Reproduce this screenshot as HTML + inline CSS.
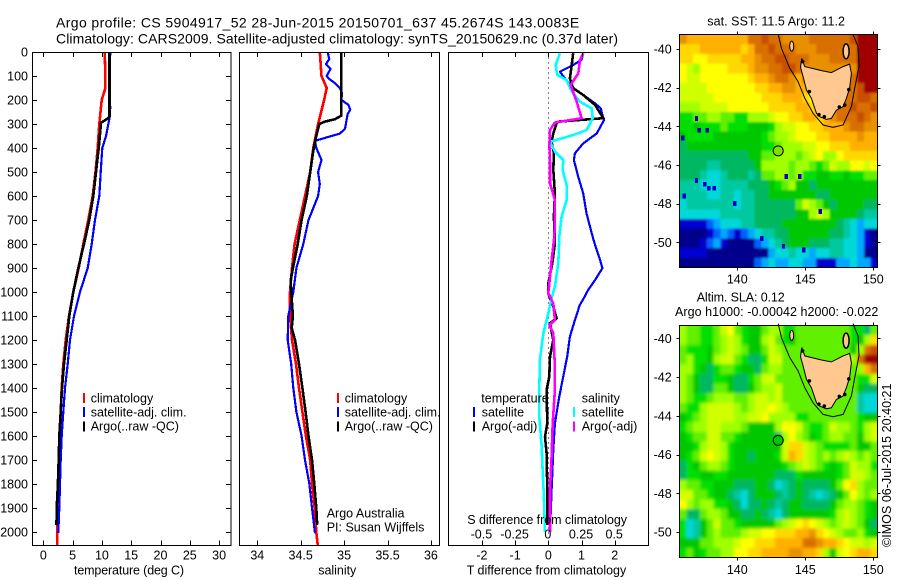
<!DOCTYPE html>
<html lang="en">
<head>
<meta charset="utf-8">
<title>Argo profile 5904917_52</title>
<style>
html,body{margin:0;padding:0;background:#fff;width:900px;height:580px;overflow:hidden}
svg{display:block}
text{font-family:"Liberation Sans",Arial,sans-serif;font-size:12.5px;fill:#000}
.t{font-size:14px}
</style>
</head>
<body>
<svg id="chart" xmlns="http://www.w3.org/2000/svg" width="900" height="580" viewBox="0 0 900 580">
<defs>
<filter id="blurSst" filterUnits="userSpaceOnUse" x="660" y="15" width="240" height="270"><feGaussianBlur stdDeviation="1.1"/></filter>
<filter id="blurSla" filterUnits="userSpaceOnUse" x="660" y="305" width="240" height="270"><feGaussianBlur stdDeviation="1.7"/></filter>
<clipPath id="clipSst"><rect x="679.5" y="34.5" width="198" height="233"/></clipPath>
<clipPath id="clipSla"><rect x="679.5" y="325.5" width="198" height="232"/></clipPath>
</defs>
<text class="t" x="56" y="27.3" style="letter-spacing:0.39px">Argo profile: CS 5904917_52 28-Jun-2015 20150701_637 45.2674S 143.0083E</text>
<text class="t" x="56" y="43.3" textLength="562" lengthAdjust="spacing">Climatology: CARS2009. Satellite-adjusted climatology: synTS_20150629.nc (0.37d later)</text>

<g id="p1"></g>
<g id="p2"></g>
<g id="p3"></g>
<g id="m1"></g>
<g id="m2"></g>

<text x="74" y="574.7" textLength="110" lengthAdjust="spacing">temperature (deg C)</text>
<text x="318.3" y="574.7" textLength="38" lengthAdjust="spacing">salinity</text>
<text x="466.7" y="574.7" textLength="159.5" lengthAdjust="spacing">T difference from climatology</text>
<text x="467.3" y="524" textLength="159.7" lengthAdjust="spacing">S difference from climatology</text>

<g>
<rect x="83" y="393" width="2" height="10" fill="#ff0000"/>
<rect x="83" y="407" width="2" height="10" fill="#0000ff"/>
<rect x="83" y="421.5" width="2" height="10" fill="#000"/>
<text x="90.7" y="402.7">climatology</text>
<text x="90.7" y="416.7">satellite-adj. clim.</text>
<text x="90.7" y="430.7">Argo(..raw -QC)</text>
</g>
<g>
<rect x="337" y="393" width="2" height="10" fill="#ff0000"/>
<rect x="337" y="407" width="2" height="10" fill="#0000ff"/>
<rect x="337" y="421.5" width="2" height="10" fill="#000"/>
<text x="344.7" y="402.7">climatology</text>
<text x="344.7" y="416.7">satellite-adj. clim.</text>
<text x="344.7" y="430.7">Argo(..raw -QC)</text>
<text x="326.7" y="517.3">Argo Australia</text>
<text x="326.7" y="531.3">PI: Susan Wijffels</text>
</g>
<g>
<text x="481.3" y="402.7">temperature</text>
<rect x="473" y="407" width="2" height="10" fill="#0000ff"/>
<rect x="473" y="421.5" width="2" height="10" fill="#000"/>
<text x="481.7" y="416.7">satellite</text>
<text x="481.7" y="430.7">Argo(-adj)</text>
<text x="581.7" y="402.7">salinity</text>
<rect x="573" y="407" width="2" height="10" fill="#00ffff"/>
<rect x="573" y="421.5" width="2" height="10" fill="#ff00ff"/>
<text x="581.7" y="416.7">satellite</text>
<text x="581.7" y="430.7">Argo(-adj)</text>
</g>

<text x="707.3" y="25.7" textLength="137.7" lengthAdjust="spacing">sat. SST: 11.5 Argo: 11.2</text>
<text x="696.7" y="301.7" textLength="88" lengthAdjust="spacing">Altim. SLA: 0.12</text>
<text x="675" y="316" textLength="203.3" lengthAdjust="spacing">Argo h1000: -0.00042 h2000: -0.022</text>
<text transform="translate(891 547) rotate(-90)" textLength="163.5" lengthAdjust="spacing">©IMOS 06-Jul-2015 20:40:21</text>
</svg>

<script>
// ---------- axis ticks ----------
const depthTicks = [0,100,200,300,400,500,600,700,800,900,1000,1100,1200,1300,1400,1500,1600,1700,1800,1900,2000];
const tempTicks = [0,5,10,15,20,25,30];
const salTicks = [34,34.5,35,35.5,36];
const salTickLabels = ['34','34.5','35','35.5','36'];
const tDiffTicks = [-2,-1,0,1,2];
const sDiffTicks = [-0.5,-0.25,0,0.25,0.5];
const sDiffTickLabels = ['-0.5','-0.25','0','0.25','0.5'];
const lonTicks = [140,145,150];
const latTicks = [-40,-42,-44,-46,-48,-50];

// ---------- temperature profiles ----------
const climTempDepth = [0,100,150,200,300,400,500,600,700,800,900,1000,1100,1200,1300,1400,1500,1600,1700,1800,1900,2000,2054];
const climTemp = [10.47,10.6,10.6,9.96,9.56,9.28,8.9,8.43,7.68,6.83,6.04,5.12,4.39,3.82,3.41,3.14,2.97,2.85,2.68,2.56,2.46,2.39,2.35];
const satTempDepth = [0,100,200,230,280,350,400,500,600,700,800,900,1000,1100,1200,1300,1400,1500,1600,1700,1800,1900,2005];
const satTemp = [11.44,11.27,11.27,11.44,11.27,10.7,10.07,9.8,9.56,8.82,8.26,7.57,6.26,5.24,4.56,4.16,3.7,3.41,3.14,2.97,2.85,2.73,2.56];
const argoTempDepth = [0,270,280,295,400,500,600,700,800,900,1000,1100,1200,1300,1400,1500,1600,1700,1800,1900,1970];
const argoTemp = [11.3,11.3,10.8,9.85,9.45,9,8.54,7.85,6.95,5.97,5.12,4.44,3.99,3.53,3.19,2.97,2.73,2.63,2.5,2.29,2.25];

// ---------- salinity profiles ----------
const climSalDepth = [0,100,150,200,300,400,500,600,700,800,900,1000,1100,1200,1300,1400,1500,1600,1700,1800,1900,2000,2054];
const climSal = [34.72,34.74,34.8,34.77,34.7,34.645,34.61,34.55,34.49,34.43,34.4,34.377,34.377,34.4,34.446,34.48,34.52,34.56,34.61,34.63,34.66,34.68,34.696];
const satSalDepth = [0,30,50,70,100,110,130,150,170,200,220,240,260,320,340,370,400,450,500,550,600,650,700,800,900,1000,1100,1200,1300,1400,1500,1600,1700,1800,1900,2005];
const satSal = [34.81,34.83,34.79,34.845,34.8,34.82,34.895,34.95,34.975,34.97,35.05,35.07,35.04,35.01,34.95,34.665,34.68,34.74,34.7,34.72,34.7,34.645,34.59,34.53,34.45,34.415,34.357,34.35,34.39,34.415,34.45,34.51,34.55,34.6,34.63,34.665];
const argoSalDepth = [0,265,280,290,300,350,400,500,600,700,800,900,950,1000,1100,1150,1200,1300,1400,1500,1600,1700,1800,1900,1970];
const argoSal = [34.968,34.968,34.895,34.78,34.714,34.68,34.65,34.61,34.57,34.51,34.465,34.41,34.385,34.39,34.41,34.396,34.434,34.48,34.52,34.557,34.59,34.63,34.657,34.68,34.69];

// ---------- differences from climatology ----------
const satTDiffDepth = [5,33,54,82,110,144,179,214,235,262,283,339,381,422,450,519,589,672,783,867,901,950,992,1026,1054,1117,1186,1269,1353,1436,1547,1658,1825,1999];
const satTDiff = [1.05,1,0.75,0.35,0.5,0.7,1.05,1.41,1.58,1.63,1.68,1.46,1.05,0.8,0.77,0.9,1.05,1.15,1.36,1.56,1.63,1.41,1.2,1.07,0.95,0.8,0.65,0.57,0.45,0.33,0.2,0.15,0.1,0.05];
const argoTDiffDepth = [5,61,110,151,179,221,276,290,297,339,374,422,491,589,686,797,881,964,1006,1061,1110,1130,1200,1269,1353,1408,1547,1603,1672,1825,1970];
const argoTDiff = [0.75,0.7,0.65,0.75,1.05,1.41,1.66,0.3,0.25,0.15,0.1,0.17,0.15,0.2,0.17,0.2,0.12,0,0,0.15,0.25,0.05,0.15,0.05,0.03,-0.05,-0.03,-0.1,-0.05,-0.03,-0.03];
const satSDiffDepth = [5,54,96,117,165,207,235,276,325,346,374,415,450,491,554,617,686,769,881,978,1026,1089,1172,1283,1408,1520,1645,1742,1853,1999];
const satSDiff = [0.088,0.055,0.068,0.138,0.176,0.239,0.327,0.334,0.289,0.188,0.013,0.05,0.113,0.108,0.138,0.138,0.1,0.083,0.075,0.05,0.025,0,-0.038,-0.063,-0.068,-0.068,-0.05,-0.043,-0.033,-0.025];
const argoSDiffDepth = [5,33,89,137,207,276,294,325,387,464,547,617,728,783,867,936,1005,1047,1117,1138,1172,1311,1408,1547,1686,1825,1999];
const argoSDiff = [0.264,0.239,0.226,0.168,0.214,0.251,0.05,0.013,0.008,0.013,0.013,0.05,0.05,0.043,0.025,0.013,0,0.038,0.05,0.008,0.038,0.05,0.05,0.033,0.025,0.013,0.013];

// ---------- map data: colour-level codes, one row per latitude band, 29 longitude bands ----------
const levelColors = {a:'#00008c',b:'#0000d0',c:'#0060ff',d:'#00a8ff',e:'#00d8d8',f:'#00c8a0',g:'#00b860',h:'#00c800',i:'#00e000',j:'#60f000',k:'#a0ff00',l:'#d0ff00',m:'#ffff00',n:'#ffd800',o:'#ffb000',p:'#e89000',q:'#d87000',r:'#c85000',s:'#a00000'};
const sstRows = [
'poooooooooqqrqqppppqqqqqqrsss',
'nnnoooooonoqqrqqqpppqqqqqqsss',
'nnmmnnnnnoopqqrrqqqpppqqqqsss',
'mlkmmmmnnnoppqqrrqppppppppsss',
'mllmmmmmmmnoopqqpoqqqqqqqqsss',
'llllmmmmmmmnnooppoooqqqqqqrss',
'lllllmmmmmmmnnnooonmpqqqqqrrq',
'kkkllllmmmmmmnnnnoonnoqqqrqqr',
'iijjkkjjiikkklmmnnoonopqqqrqp',
'iihiiijiiihhhikllmmnnooopqqpp',
'hiiiihhhhhhhijkklmmmnnoooopoo',
'ghhhhhhhhhhhiijkkkllmmnnnoooo',
'gggggggggghhjjkkkjklmkkmnnnnn',
'ggggffggggghkkkkjkkjijlkkmmlm',
'gggfeefgggfgjjkkjkiihhiihiijj',
'fffeeeffffggghijkhhghhhhhhhhh',
'ffffeeffeffgghhhhhhhgghhhhhhh',
'efffffffeffggggggjlkjhghhhhgg',
'eeeeeefffffgggggghhklkhhhhgff',
'bbbbcdeeeffgggghhhhhhhhgfedee',
'aaaabcdcbcdeffgghhhhhhggfedba',
'aaabcdbaaaacdefghhhgggffeedba',
'bbbbaaaaaaaaadeefeedeeffeedaa',
'aaaaaaaaaaacdeddeeddbbbddeddb'
];
const slaRows = [
'kjjiijlmjihhjkkiijjjjjjjjiigj',
'kjjiijklkihhkljihjjjjjjjjihkn',
'jiiihjklkjhhjlkjjjjjjjjjjhkqr',
'jkiihklljiggilljjjjjjjjjjkqss',
'kkihgijjihhgjkkjjjjjjjjjjjkoq',
'kjhggiihggijlljjjjjjjjjjjjiil',
'kjhggjjhgghjkkljjjjjjjjjjjhgg',
'kjiijkkkjjkllkljjjjjjjjjjjfee',
'jiikllllkjkllmlkjjjjjjjjjjfee',
'hijkllllkkllmkkkkiijjjjjjjihh',
'ijkkllkkkjhhhhkmmljiijlkkjikl',
'hijjlljjihhhhhgkmkjhijkkjjhkl',
'hhikllkihhhhhhhlnnlkjiiiijhhj',
'hijlmlkihhghhhilonlkjkjklkjkj',
'gihjkkjihhhhhhhijklkjihijlkki',
'giihhiihhhhhhhgggihhhhhijllkj',
'kjjiihhhggghhgefghgggghjmnkjj',
'lljjihhgfeghhhgfghgfefghjmkjk',
'mkjkkiihgegghgfghhgggghjkkjih',
'jggjkkjhhgghgfeghhhhhhiklkjih',
'iefhjljjihhhhhjklmnmlkjklkjhg',
'iefhjkjjjkllmmnnnoopnmlkjjkih',
'hhhjjkkklmmnnnooooqqpoonmllkl',
'ijhijjkkmmnnooooppoonkhlmnoon'
];
// isolated dark-blue cloud-edge pixels in the SST field
const sstSpeckLon = [137.2,137.8,137.0,136.0,137.0,137.6,137.9,138.3,136.1,139.8,143.6,144.6,141.8,143.4,144.9,146.1];
const sstSpeckLat = [-44.2,-44.2,-43.6,-44.6,-46.8,-47.0,-47.2,-47.2,-47.6,-48.0,-46.6,-46.6,-49.8,-50.2,-50.4,-48.4];

// Tasmania coastline and shelf contour, lon / lat
const coastLon = [144.65,144.74,144.96,146.19,146.92,147.78,148.26,148.39,148.26,148.02,147.78,147.29,146.92,146.55,146.06,145.82,145.45,145.09,144.84];
const coastLat = [-40.95,-40.48,-40.91,-41.12,-41.22,-40.91,-40.78,-41.26,-42.03,-42.55,-42.98,-43.16,-43.59,-43.64,-43.5,-43.33,-42.55,-42.12,-41.43];
const contourLon = [143.01,143.25,143.86,144.47,144.96,145.57,146.31,147.04,147.78,148.39,148.63,148.95,148.88,148.51];
const contourLat = [-39.24,-39.97,-41.0,-41.69,-42.55,-43.33,-43.93,-44.05,-43.93,-42.98,-42.03,-40.91,-39.88,-39.24];
const harbourLon = [145.3,146.0,146.4,147.5,147.9,148.2,144.8];
const harbourLat = [-42.2,-43.4,-43.5,-43.0,-42.9,-42.1,-40.65];
const argoLon = [143.0083];
const argoLat = [-45.2674];

// ---------- drawing ----------
const NS = 'http://www.w3.org/2000/svg';
function mk(parent, tag, attrs){
  const el = document.createElementNS(NS, tag);
  for (const k in attrs) el.setAttribute(k, attrs[k]);
  parent.appendChild(el);
  return el;
}
function label(parent, name, x, y, str, anchor){
  const el = mk(parent, 'text', {x:x, y:y, 'text-anchor':anchor});
  
  
  el.textContent = str;
  return el;
}
function tick(parent, name, x1, y1, x2, y2){
  const el = mk(parent, 'line', {x1:x1, y1:y1, x2:x2, y2:y2, stroke:'#000', 'stroke-width':1, 'shape-rendering':'crispEdges'});
  
  
  return el;
}
function box(parent, name, x, y, w, h){
  const el = mk(parent, 'rect', {x:x, y:y, width:w, height:h, fill:'none', stroke:'#000', 'stroke-width':1, 'shape-rendering':'crispEdges'});
  
  
  return el;
}
function profile(parent, name, depths, vals, xf, color, width){
  const pts = depths.map((d, i) => xf(vals[i]).toFixed(1) + ',' + yDepth(d).toFixed(1)).join(' ');
  const el = mk(parent, 'polyline', {points:pts, fill:'none', stroke:color, 'stroke-width':width, 'stroke-linejoin':'round', 'shape-rendering':'crispEdges'});
  
  
  return el;
}

const TOP = 52, BOT = 545;
function yDepth(d){ return TOP + d * 0.24; }
function xTemp(t){ return 43.3 + t * 5.86; }
function xSal(s){ return 257.3 + (s - 34) * 86.8; }
function xTD(t){ return 548.3 + t * 33.2; }
function xSD(s){ return 548.3 + s * 132.8; }

// panel 1
const p1 = document.getElementById('p1');
profile(p1, 'climatology-temperature-line', climTempDepth, climTemp, xTemp, '#ff0000', 2.6);
profile(p1, 'satellite-temperature-line', satTempDepth, satTemp, xTemp, '#0000ff', 2.2);
profile(p1, 'argo-temperature-line', argoTempDepth, argoTemp, xTemp, '#000', 2.6);
box(p1, 'temperature-plot-frame', 32.5, 52.5, 198.5, 493);
depthTicks.forEach(d => {
  const y = Math.round(yDepth(d)) + 0.5;
  if (d > 0) tick(p1, 'depth-tick', 32.5, y, 37, y);
  if (d > 0) tick(p1, 'depth-tick', 226, y, 231, y);
  label(p1, 'depth-tick-label', 28, yDepth(d) + 4.5, String(d), 'end');
});
tempTicks.forEach(t => {
  const x = Math.round(xTemp(t)) + 0.5;
  tick(p1, 'temperature-tick', x, 52.5, x, 57);
  tick(p1, 'temperature-tick', x, 540.5, x, 545.5);
  label(p1, 'temperature-tick-label', xTemp(t), 559.3, String(t), 'middle');
});

// panel 2
const p2 = document.getElementById('p2');
profile(p2, 'climatology-salinity-line', climSalDepth, climSal, xSal, '#ff0000', 2.6);
profile(p2, 'satellite-salinity-line', satSalDepth, satSal, xSal, '#0000ff', 2.2);
profile(p2, 'argo-salinity-line', argoSalDepth, argoSal, xSal, '#000', 2.6);
box(p2, 'salinity-plot-frame', 239.5, 52.5, 200, 493);
salTicks.forEach((s, i) => {
  const x = Math.round(xSal(s)) + 0.5;
  tick(p2, 'salinity-tick', x, 52.5, x, 57);
  tick(p2, 'salinity-tick', x, 540.5, x, 545.5);
  label(p2, 'salinity-tick-label', xSal(s), 559.3, salTickLabels[i], 'middle');
});

// panel 3
const p3 = document.getElementById('p3');
const zero = mk(p3, 'line', {x1:548.5, y1:52.5, x2:548.5, y2:545, stroke:'#000', 'stroke-width':1, 'stroke-dasharray':'1 4', 'shape-rendering':'crispEdges'});


profile(p3, 'satellite-t-difference-line', satTDiffDepth, satTDiff, xTD, '#0000ff', 2.2);
profile(p3, 'argo-t-difference-line', argoTDiffDepth, argoTDiff, xTD, '#000', 2.6);
profile(p3, 'satellite-s-difference-line', satSDiffDepth, satSDiff, xSD, '#00ffff', 2.6);
profile(p3, 'argo-s-difference-line', argoSDiffDepth, argoSDiff, xSD, '#ff00ff', 2.6);
box(p3, 'difference-plot-frame', 448.5, 52.5, 200, 493);
tDiffTicks.forEach(t => {
  const x = Math.round(xTD(t)) + 0.5;
  tick(p3, 't-difference-tick', x, 52.5, x, 57);
  tick(p3, 't-difference-tick', x, 540.5, x, 545.5);
  label(p3, 't-difference-tick-label', xTD(t), 559.3, String(t), 'middle');
});
sDiffTicks.forEach((s, i) => {
  label(p3, 's-difference-tick-label', xSD(s) - 0.5, 538.7, sDiffTickLabels[i], 'middle');
});

// maps
function drawMap(id, prefix, rows, o){
  const g = document.getElementById(id);
  const L = 679.5, R = 877.5;
  const xLon = lon => 737.3 + (lon - 140) * 13.6;
  const yLat = lat => o.y40 + (-40 - lat) * (o.y50 - o.y40) / 10;
  const nr = rows.length, nc = rows[0].length;
  const cw = (R - L) / nc, ch = (o.bot - o.top) / nr;
  const clip = mk(g, 'g', {'clip-path':'url(#' + o.clip + ')'});
  
  
  const field = mk(clip, 'g', {filter:'url(#' + o.blur + ')'});
  // one extra band on each side keeps the smoothing from fading at the frame
  for (let r = -2; r < nr + 2; r++) {
    const row = rows[Math.max(0, Math.min(nr - 1, r))];
    for (let c = -2; c < nc + 2; c++) {
      const code = row[Math.max(0, Math.min(nc - 1, c))];
      const cell = mk(field, 'rect', {x:(L + c * cw).toFixed(2), y:(o.top + r * ch).toFixed(2), width:(cw + 0.6).toFixed(2), height:(ch + 0.6).toFixed(2), fill:levelColors[code], 'shape-rendering':'crispEdges'});
      
      
    }
  }
  if (o.speckLon) o.speckLon.forEach((lon, i) => {
    const sp = mk(g, 'rect', {x:xLon(lon) - 1.7, y:yLat(o.speckLat[i]) - 2.4, width:3.4, height:4.8, fill:'#0000c8', 'shape-rendering':'crispEdges'});
    
    
  });
  const contour = mk(g, 'polyline', {points:contourLon.map((lo, i) => xLon(lo).toFixed(1) + ',' + yLat(contourLat[i]).toFixed(1)).join(' '), fill:'none', stroke:'#000', 'stroke-width':1});
  
  
  const land = mk(g, 'polygon', {points:coastLon.map((lo, i) => xLon(lo).toFixed(1) + ',' + yLat(coastLat[i]).toFixed(1)).join(' '), fill:'#ffc890', stroke:'#000', 'stroke-width':1});
  
  
  harbourLon.forEach((lo, i) => {
    const h = mk(g, 'circle', {cx:xLon(lo), cy:yLat(harbourLat[i]), r:1.8, fill:'#000'});
    
    
  });
  const king = mk(g, 'ellipse', {cx:xLon(144), cy:yLat(-39.85), rx:2, ry:5, fill:'#ffc890', stroke:'#000', 'stroke-width':1});
  
  
  const fl = mk(g, 'ellipse', {cx:xLon(148), cy:yLat(-40.12), rx:3, ry:7.5, fill:'#ffc890', stroke:'#000', 'stroke-width':1.5});
  
  
  argoLon.forEach((lo, i) => {
    const m = mk(g, 'circle', {cx:xLon(lo), cy:yLat(argoLat[i]), r:5, fill:o.argoFill, stroke:'#000', 'stroke-width':1});
    
    
  });
  box(g, prefix + '-frame', L, o.top, R - L, o.bot - o.top);
  lonTicks.forEach(lon => {
    const x = Math.round(xLon(lon)) + 0.5;
    tick(g, prefix + '-longitude-tick', x, o.top - 3, x, o.top);
    tick(g, prefix + '-longitude-tick', x, o.bot, x, o.bot + 3);
    label(g, prefix + '-longitude-label', xLon(lon), o.xBase, String(lon), 'middle');
  });
  latTicks.forEach(lat => {
    const y = Math.round(yLat(lat)) + 0.5;
    tick(g, prefix + '-latitude-tick', L - 3, y, L, y);
    tick(g, prefix + '-latitude-tick', R, y, R + 3, y);
    label(g, prefix + '-latitude-label', 671.7, yLat(lat) + 4.5, String(lat), 'end');
  });
}
drawMap('m1', 'sst-map', sstRows, {top:34.5, bot:267.5, y40:49, y50:242.3, xBase:283.3, argoFill:'#80e000', speckLon:sstSpeckLon, speckLat:sstSpeckLat, clip:'clipSst', blur:'blurSst'});
drawMap('m2', 'sla-map', slaRows, {top:325.5, bot:557.5, y40:338.3, y50:532, xBase:574, argoFill:'#00c800', clip:'clipSla', blur:'blurSla'});
</script>
</body>
</html>
